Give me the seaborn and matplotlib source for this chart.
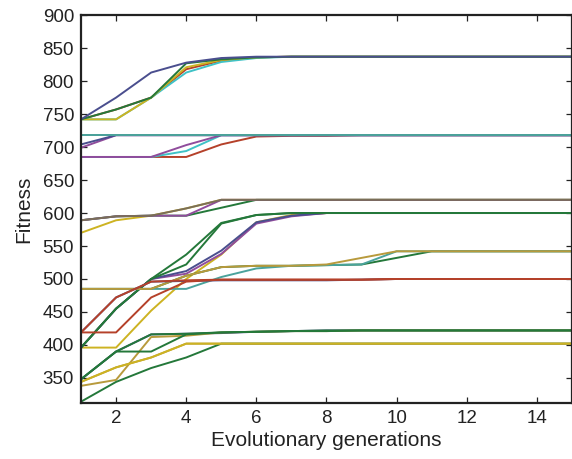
import numpy as np
import pandas as pd
import matplotlib
matplotlib.use("Agg")
import matplotlib.pyplot as plt
import seaborn as sns

# Generations on the x axis
generations = list(range(1, 16))

# Line colours
blue = "#4a4e8e"
green = "#24783a"
red = "#b5412a"
teal = "#4aa39c"
cyan = "#3fc2c6"
magenta = "#904c9c"
gold = "#b89a3c"
yellow = "#cdb322"
grey = "#7a6e58"

# Best fitness per generation, one list per run (grouped by instance)
a_red = [742, 757, 775, 818, 831, 836, 837, 837, 837, 837, 837, 837, 837, 837, 837]
a_cyan = [742, 742, 775, 813, 829, 835, 837, 837, 837, 837, 837, 837, 837, 837, 837]
a_yellow = [742, 742, 775, 821, 832, 836, 837, 837, 837, 837, 837, 837, 837, 837, 837]
a_green = [742, 757, 775, 827, 833, 836, 837, 837, 837, 837, 837, 837, 837, 837, 837]
a_blue = [742, 775, 813, 828, 835, 837, 837, 837, 837, 837, 837, 837, 837, 837, 837]

b_red = [685, 685, 685, 685, 704, 716, 717, 717, 718, 718, 718, 718, 718, 718, 718]
b_cyan2 = [685, 685, 685, 694, 718, 718, 718, 718, 718, 718, 718, 718, 718, 718, 718]
b_purple = [685, 685, 685, 703, 718, 718, 718, 718, 718, 718, 718, 718, 718, 718, 718]
b_magenta = [699, 718, 718, 718, 718, 718, 718, 718, 718, 718, 718, 718, 718, 718, 718]
b_blue = [704, 718, 718, 718, 718, 718, 718, 718, 718, 718, 718, 718, 718, 718, 718]
b_grey = [718, 718, 718, 718, 718, 718, 718, 718, 718, 718, 718, 718, 718, 718, 718]
b_cyan = [718, 718, 718, 718, 718, 718, 718, 718, 718, 718, 718, 718, 718, 718, 718]

c_yellow = [570, 589, 596, 607, 620, 620, 620, 620, 620, 620, 620, 620, 620, 620, 620]
c_green = [589, 595, 596, 596, 608, 620, 620, 620, 620, 620, 620, 620, 620, 620, 620]
c_magenta = [589, 595, 596, 596, 620, 620, 620, 620, 620, 620, 620, 620, 620, 620, 620]
c_grey = [589, 595, 596, 607, 620, 620, 620, 620, 620, 620, 620, 620, 620, 620, 620]

d_yellow = [396, 396, 452, 500, 537, 586, 597, 600, 600, 600, 600, 600, 600, 600, 600]
d_magenta = [396, 455, 500, 508, 538, 584, 595, 600, 600, 600, 600, 600, 600, 600, 600]
d_blue = [396, 455, 500, 512, 543, 586, 596, 600, 600, 600, 600, 600, 600, 600, 600]
d_green2 = [396, 455, 500, 522, 584, 597, 600, 600, 600, 600, 600, 600, 600, 600, 600]
d_green1 = [396, 455, 500, 537, 585, 597, 600, 600, 600, 600, 600, 600, 600, 600, 600]

e_green = [485, 485, 485, 505, 518, 520, 520, 521, 522, 532, 542, 542, 542, 542, 542]
e_teal = [485, 485, 485, 485, 503, 516, 520, 521, 522, 542, 542, 542, 542, 542, 542]
e_gold = [485, 485, 485, 505, 518, 520, 520, 522, 532, 542, 542, 542, 542, 542, 542]

f_blue = [419, 472, 496, 497, 498, 498, 498, 498, 499, 500, 500, 500, 500, 500, 500]
f_red2 = [419, 419, 472, 496, 499, 499, 499, 499, 499, 500, 500, 500, 500, 500, 500]
f_red1 = [419, 472, 496, 498, 499, 499, 499, 499, 499, 500, 500, 500, 500, 500, 500]

g_blue = [348, 390, 416, 417, 418, 420, 421, 422, 422, 422, 422, 422, 422, 422, 422]
g_gold = [338, 347, 412, 414, 419, 420, 421, 421, 422, 422, 422, 422, 422, 422, 422]
g_green2 = [348, 390, 416, 417, 419, 420, 421, 422, 422, 422, 422, 422, 422, 422, 422]
g_green1 = [348, 390, 390, 416, 419, 420, 421, 421, 422, 422, 422, 422, 422, 422, 422]

h_green = [314, 344, 365, 381, 402, 402, 402, 402, 402, 402, 402, 402, 402, 402, 402]
h_gold = [344, 366, 381, 402, 402, 402, 402, 402, 402, 402, 402, 402, 402, 402, 402]
h_yellow = [344, 366, 381, 402, 402, 402, 402, 402, 402, 402, 402, 402, 402, 402, 402]

runs = [
    (a_red, red), (a_cyan, cyan), (a_yellow, yellow), (a_green, green), (a_blue, blue),
    (b_red, red), (b_cyan2, cyan), (b_purple, magenta), (b_magenta, magenta),
    (b_blue, blue), (b_grey, grey), (b_cyan, teal),
    (c_yellow, yellow), (c_green, green), (c_magenta, magenta), (c_grey, grey),
    (d_yellow, yellow), (d_magenta, magenta), (d_blue, blue), (d_green2, green), (d_green1, green),
    (e_green, green), (e_teal, teal), (e_gold, gold),
    (f_blue, blue), (f_red2, red), (f_red1, red),
    (g_blue, blue), (g_gold, gold), (g_green2, green), (g_green1, green),
    (h_green, green), (h_gold, gold), (h_yellow, yellow),
]

sns.set_style("ticks")
plt.rcParams["font.family"] = ["Liberation Sans", "DejaVu Sans"]

fig = plt.figure(figsize=(5.72, 4.59), dpi=100)
ax = fig.add_axes([0.1416, 0.122, 0.8584, 0.845])

for vals, col in runs:
    df = pd.DataFrame({"gen": generations, "fit": vals})
    sns.lineplot(data=df, x="gen", y="fit", color=col, linewidth=1.4, ax=ax,
                 legend=False)

ax.set_xlim(1, 15)
ax.set_ylim(312, 900)
ax.set_xticks([2, 4, 6, 8, 10, 12, 14])
ax.set_yticks(list(range(350, 901, 50)))
ax.tick_params(direction="in", length=4, width=0.9, labelsize=13.5, pad=5,
               top=True, right=True, colors="#222222", labelcolor="#222222")
for s in ax.spines.values():
    s.set_color("#222222")
    s.set_linewidth(1.6)
ax.set_xlabel("Evolutionary generations", fontsize=15, color="#222222", labelpad=3)
ax.set_ylabel("Fitness", fontsize=15, color="#222222", labelpad=7)

fig.savefig("out.png", dpi=100)
